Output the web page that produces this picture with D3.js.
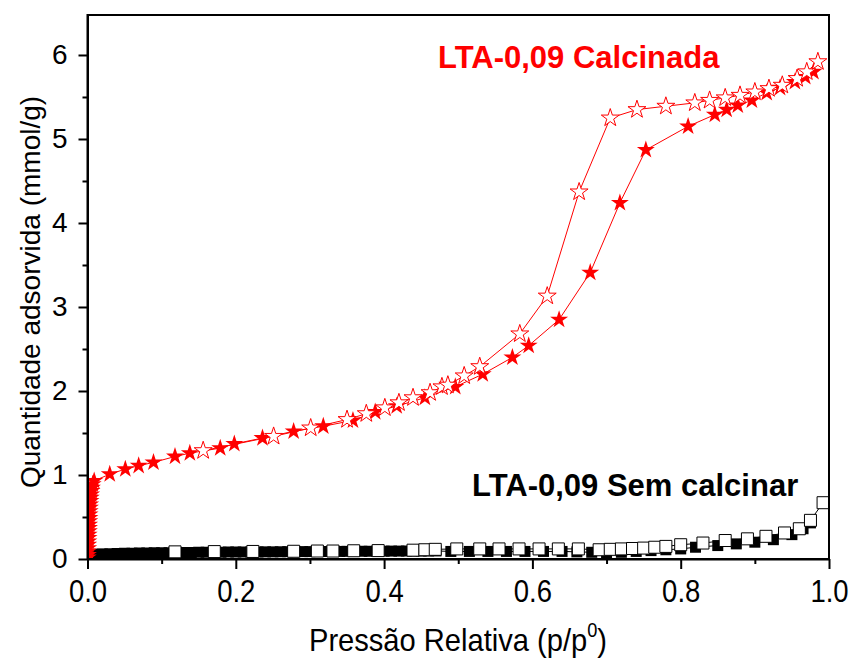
<!DOCTYPE html>
<html><head><meta charset="utf-8">
<script src="https://cdn.jsdelivr.net/npm/d3@7"></script>
<style>body{margin:0;background:#fff}svg{display:block}</style>
</head><body>
<svg id="c" width="851" height="660"></svg>
<script>
// ---- data ----
const xTicks = [0, 0.2, 0.4, 0.6, 0.8, 1.0];
const xTickLabels = ["0.0", "0.2", "0.4", "0.6", "0.8", "1.0"];
const xMinor = [0.1, 0.3, 0.5, 0.7, 0.9];
const yTicks = [0, 1, 2, 3, 4, 5, 6];
const yMinor = [0.5, 1.5, 2.5, 3.5, 4.5, 5.5];

// Calcinada - adsorption (filled stars)
const calcAdsX = [0.0003,0.0005,0.0007,0.0009,0.001,0.0012,0.0014,0.0016,0.0018,0.002,0.0022,0.0024,0.0026,0.0028,0.003,0.0033,0.0036,0.004,0.0045,0.005,0.0055,0.006,0.007,0.009,
  0.030,0.051,0.069,0.089,0.118,0.138,0.179,0.198,0.236,0.278,0.318,0.358,0.388,0.417,0.455,0.496,0.533,0.573,0.595,0.636,0.678,0.718,0.753,0.810,0.846,0.862,0.877,0.896,0.916,0.934,0.954,0.968,0.979];
const calcAdsY = [0.02,0.05,0.09,0.13,0.17,0.21,0.25,0.29,0.33,0.37,0.41,0.45,0.49,0.53,0.57,0.61,0.65,0.69,0.73,0.77,0.81,0.85,0.89,0.93,
  1.01,1.07,1.11,1.15,1.22,1.26,1.32,1.37,1.44,1.52,1.58,1.65,1.75,1.82,1.92,2.05,2.20,2.40,2.54,2.85,3.41,4.24,4.87,5.15,5.29,5.35,5.40,5.46,5.55,5.61,5.68,5.74,5.80];
// Calcinada - desorption (open stars)
const calcDesX = [0.156,0.251,0.301,0.350,0.376,0.401,0.420,0.439,0.462,0.478,0.486,0.508,0.529,0.583,0.620,0.663,0.705,0.741,0.780,0.819,0.839,0.860,0.880,0.900,0.919,0.937,0.957,0.970,0.985];
const calcDesY = [1.29,1.46,1.56,1.66,1.73,1.80,1.86,1.92,1.98,2.05,2.07,2.18,2.29,2.68,3.13,4.37,5.25,5.35,5.39,5.43,5.46,5.49,5.52,5.56,5.60,5.64,5.72,5.80,5.92];

// Sem calcinar - adsorption (filled squares)
const semAdsX = [0.0005,0.001,0.0015,0.002,0.003,0.004,0.006,0.008,0.010,0.015,0.020,0.030,0.040,0.050,0.060,0.070,0.080,0.090,0.100,0.110,0.120,0.130,0.140,0.150,0.160,0.170,0.180,0.190,0.200,0.210,0.220,0.230,0.240,0.250,0.260,0.270,0.280,0.290,0.300,0.310,0.320,0.330,0.340,0.350,0.360,0.370,0.380,0.390,0.400,0.410,0.420,0.430,0.440,0.450,0.460,0.470,0.490,0.515,0.540,0.565,0.590,0.615,0.640,0.660,0.680,0.700,0.720,0.740,0.760,0.780,0.800,0.820,0.850,0.875,0.900,0.925,0.950,0.965,0.975];
const semAdsY = [0.01,0.02,0.03,0.035,0.04,0.045,0.05,0.052,0.055,0.058,0.060,0.062,0.065,0.067,0.069,0.070,0.072,0.073,0.074,0.075,0.076,0.077,0.078,0.079,0.080,0.080,0.081,0.082,0.082,0.083,0.084,0.084,0.085,0.085,0.086,0.087,0.087,0.088,0.088,0.089,0.089,0.090,0.090,0.091,0.091,0.092,0.092,0.093,0.093,0.094,0.094,0.095,0.095,0.095,0.096,0.096,0.090,0.090,0.090,0.090,0.090,0.090,0.090,0.085,0.080,0.075,0.080,0.090,0.100,0.110,0.120,0.140,0.160,0.180,0.200,0.230,0.290,0.360,0.430];
// Sem calcinar - desorption (open squares)
const semDesX = [0.118,0.171,0.223,0.278,0.310,0.331,0.359,0.392,0.439,0.455,0.469,0.498,0.529,0.555,0.582,0.609,0.635,0.662,0.690,0.705,0.720,0.735,0.750,0.765,0.780,0.800,0.830,0.860,0.890,0.915,0.940,0.960,0.975,0.992];
const semDesY = [0.085,0.088,0.090,0.092,0.095,0.095,0.098,0.100,0.105,0.110,0.115,0.120,0.120,0.120,0.120,0.120,0.120,0.120,0.110,0.115,0.120,0.125,0.130,0.140,0.150,0.170,0.190,0.220,0.240,0.270,0.310,0.360,0.460,0.670];

const labelCalc = "LTA-0,09 Calcinada";
const labelSem = "LTA-0,09 Sem calcinar";
const yTitle = "Quantidade adsorvida (mmol/g)";

// ---- chart ----
const FONT = "Liberation Sans, Arial, sans-serif";
const svg = d3.select("#c");
const L = 87.5, R = 829, T = 15, B = 559;
const x = d3.scaleLinear().domain([0, 1]).range([L, R]);
const y = d3.scaleLinear().domain([0, 6.476]).range([B, T]);

svg.append("defs").append("clipPath").attr("id", "clip")
  .append("rect").attr("x", L).attr("y", T).attr("width", R - L).attr("height", B - T);

const plot = svg.append("g").attr("clip-path", "url(#clip)");
const zip = (xs, ys) => xs.map((v, i) => [v, ys[i]]);
const line = d3.line().x(d => x(d[0])).y(d => y(d[1]));

function series(data, color, symType, size, filled, lw) {
  plot.append("path").datum(data).attr("d", line)
    .attr("fill", "none").attr("stroke", color).attr("stroke-width", lw);
  plot.append("g").selectAll("path").data(data).join("path")
    .attr("transform", d => `translate(${x(d[0])},${y(d[1])})`)
    .attr("d", d3.symbol().type(symType).size(size))
    .attr("fill", filled ? color : "#fff")
    .attr("stroke", color).attr("stroke-width", filled ? 0 : 1);
}

series(zip(semAdsX, semAdsY), "#000", d3.symbolSquare, 121, true, 1);
series(zip(semDesX, semDesY), "#000", d3.symbolSquare, 144, false, 1);
series(zip(calcAdsX, calcAdsY), "#ff0000", d3.symbolStar, 100, true, 1);
series(zip(calcDesX, calcDesY), "#ff0000", d3.symbolStar, 100, false, 1);

// frame
svg.append("rect").attr("x", L).attr("y", T).attr("width", R - L).attr("height", B - T)
  .attr("fill", "none").attr("stroke", "#000").attr("stroke-width", 2);

// x axis
const xAx = svg.append("g").attr("transform", `translate(0,${B})`)
  .call(d3.axisBottom(x).tickValues(xTicks).tickFormat((d, i) => xTickLabels[i]).tickSize(10).tickSizeOuter(0).tickPadding(10));
xAx.select(".domain").attr("stroke-width", 2);
xAx.selectAll(".tick line").attr("stroke-width", 2);
xAx.selectAll(".tick text").attr("font-family", FONT).attr("font-size", 32)
  .attr("fill", "#000").attr("transform", "scale(0.86,1)");
svg.append("g").attr("transform", `translate(0,${B})`)
  .call(d3.axisBottom(x).tickValues(xMinor).tickFormat("").tickSize(5).tickSizeOuter(0))
  .call(g => g.select(".domain").remove())
  .selectAll(".tick line").attr("stroke-width", 2);

// y axis
const yAx = svg.append("g").attr("transform", `translate(${L},0)`)
  .call(d3.axisLeft(y).tickValues(yTicks).tickFormat(d3.format("d")).tickSize(9).tickSizeOuter(0).tickPadding(11));
yAx.select(".domain").attr("stroke-width", 2);
yAx.selectAll(".tick line").attr("stroke-width", 2);
yAx.selectAll("text").attr("font-family", FONT).attr("font-size", 28).attr("fill", "#000");
svg.append("g").attr("transform", `translate(${L},0)`)
  .call(d3.axisLeft(y).tickValues(yMinor).tickFormat("").tickSize(5).tickSizeOuter(0))
  .call(g => g.select(".domain").remove())
  .selectAll(".tick line").attr("stroke-width", 2);

// x title (condensed)
const xt = svg.append("text").attr("transform", "translate(458,651) scale(0.91,1)")
  .attr("text-anchor", "middle").attr("font-family", FONT)
  .attr("font-size", 32).attr("fill", "#000");
xt.append("tspan").text("Pressão Relativa (p/p");
xt.append("tspan").attr("font-size", 20).attr("dy", -14).text("0");
xt.append("tspan").attr("dy", 14).text(")");

// y title
svg.append("text").attr("transform", "translate(40,292) rotate(-90)")
  .attr("text-anchor", "middle").attr("font-family", FONT)
  .attr("font-size", 28).attr("fill", "#000").text(yTitle);

// annotations
svg.append("text").attr("x", 438).attr("y", 68).attr("font-family", FONT)
  .attr("font-weight", "bold").attr("font-size", 31).attr("fill", "#ff0000").text(labelCalc);
svg.append("text").attr("x", 472).attr("y", 496).attr("font-family", FONT)
  .attr("font-weight", "bold").attr("font-size", 31).attr("fill", "#000").text(labelSem);
</script>
</body></html>
